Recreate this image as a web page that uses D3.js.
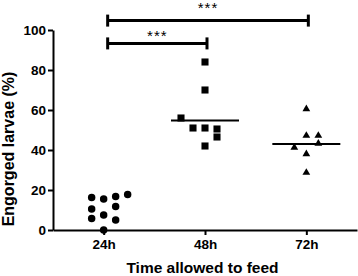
<!DOCTYPE html>
<html>
<head>
<meta charset="utf-8">
<script src="https://cdn.jsdelivr.net/npm/d3@7"></script>
<style>
  body { margin: 0; background: #fff; }
  svg { display: block; font-family: "Liberation Sans", Arial, sans-serif; }
</style>
</head>
<body>
<div id="chart"></div>
<script>
// Data
const groups = ["24h", "48h", "72h"];
const shapes = ["circle", "square", "triangle"];
const values24 = [16.3, 15.5, 16.7, 17.8, 10.5, 11.7, 5.8, 7.5, 5.0, 0];
const slots24  = [-1, 0, 1, 2, -1, 1, -1, 0, 1, 0];
const values48 = [84, 70, 56, 51, 51, 50.5, 46.5, 42];
const slots48  = [0, 0, -2, -1, 0, 1, 1, 0];
const values72 = [60.5, 47.2, 47.2, 41.3, 43.3, 38, 28.7];
const slots72  = [0, 0, 1, -1, 1, 0, 0];
const meanLines = [null, 54.8, 43];
const yTicks = [0, 20, 40, 60, 80, 100];
const brackets = [
  { from: "24h", to: "72h", level: 104.7, labelLevel: 112.8, label: "***" },
  { from: "24h", to: "48h", level: 93.3, labelLevel: 98.8, label: "***" }
];

const W = 358, H = 276;
const svg = d3.select("#chart").append("svg")
    .attr("width", W)
    .attr("height", H);

const x = d3.scalePoint()
    .domain(groups)
    .range([53, 357])
    .padding(0.5);

const y = d3.scaleLinear()
    .domain([0, 100])
    .range([230, 30]);

const slotW = 12;

// y axis
const yAxis = svg.append("g")
    .attr("transform", "translate(53,0)")
    .call(d3.axisLeft(y).tickValues(yTicks).tickSize(5).tickSizeOuter(0).tickPadding(2));
yAxis.select(".domain").attr("stroke-width", 2);
yAxis.selectAll(".tick line").attr("stroke-width", 2);
yAxis.selectAll("text")
    .attr("font-size", 13.5)
    .attr("font-weight", "bold")
    .attr("font-family", "Liberation Sans, Arial, sans-serif")
    .attr("fill", "#000");

// x axis
const xAxis = svg.append("g")
    .attr("transform", "translate(0,230)")
    .call(d3.axisBottom(x).tickSize(5).tickSizeOuter(0).tickPadding(4));
xAxis.select(".domain").attr("stroke-width", 2);
xAxis.selectAll(".tick line").attr("stroke-width", 2);
xAxis.selectAll("text")
    .attr("font-size", 13.5)
    .attr("font-weight", "bold")
    .attr("font-family", "Liberation Sans, Arial, sans-serif")
    .attr("fill", "#000");

// axis titles
svg.append("text")
    .attr("transform", "translate(14,149) rotate(-90)")
    .attr("text-anchor", "middle")
    .attr("font-size", 16)
    .attr("font-weight", "bold")
    .text("Engorged larvae (%)");

svg.append("text")
    .attr("x", 202.5)
    .attr("y", 273)
    .attr("text-anchor", "middle")
    .attr("font-size", 15.5)
    .attr("font-weight", "bold")
    .text("Time allowed to feed");

// points
const allValues = [values24, values48, values72];
const allSlots = [slots24, slots48, slots72];
const symbolFor = {
  circle: d3.symbol().type(d3.symbolCircle).size(44),
  square: d3.symbol().type(d3.symbolSquare).size(50),
  triangle: d3.symbol().type(d3.symbolTriangle).size(26)
};

groups.forEach((g, i) => {
  const pts = allValues[i].map((v, j) => ({ v: v, s: allSlots[i][j] }));
  svg.append("g").selectAll("path")
      .data(pts)
      .join("path")
      .attr("d", symbolFor[shapes[i]])
      .attr("transform", d => `translate(${x(g) + d.s * slotW},${y(d.v)})`)
      .attr("fill", "#000");

  if (meanLines[i] != null) {
    svg.append("line")
        .attr("x1", x(g) - 34)
        .attr("x2", x(g) + 34)
        .attr("y1", y(meanLines[i]))
        .attr("y2", y(meanLines[i]))
        .attr("stroke", "#000")
        .attr("stroke-width", 2);
  }
});

// significance brackets
brackets.forEach(b => {
  const x1 = x(b.from) + 4, x2 = x(b.to) + 2, yy = y(b.level);
  const gb = svg.append("g").attr("stroke", "#000").attr("stroke-width", 3);
  gb.append("line").attr("x1", x1).attr("x2", x2).attr("y1", yy).attr("y2", yy);
  gb.append("line").attr("x1", x1).attr("x2", x1).attr("y1", yy - 6).attr("y2", yy + 6);
  gb.append("line").attr("x1", x2).attr("x2", x2).attr("y1", yy - 6).attr("y2", yy + 6);
  // asterisk glyph centre sits about 0.57em above the baseline
  svg.append("text")
      .attr("x", (x1 + x2) / 2)
      .attr("y", y(b.labelLevel) + 0.57 * 15)
      .attr("text-anchor", "middle")
      .attr("font-size", 15)
      .attr("letter-spacing", 1)
      .text(b.label);
});
</script>
</body>
</html>
